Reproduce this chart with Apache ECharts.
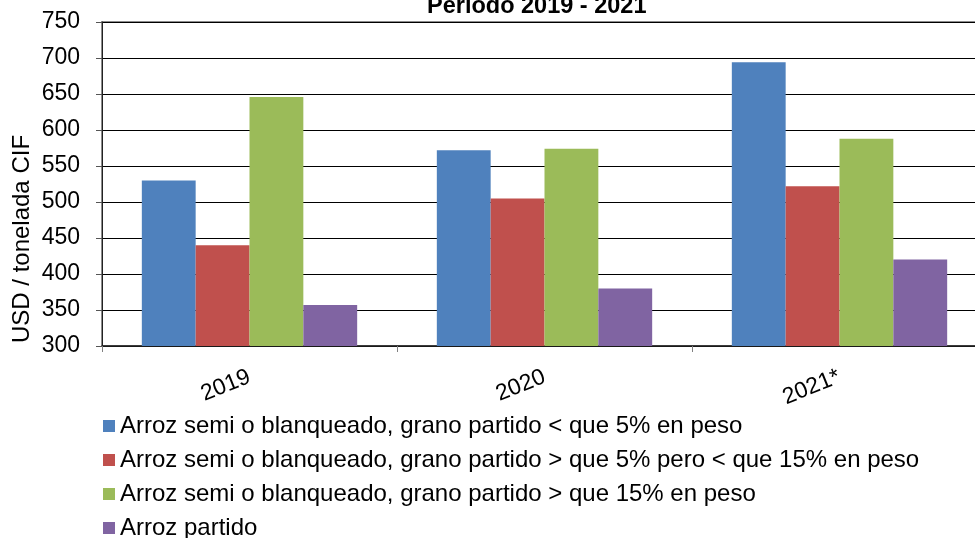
<!DOCTYPE html>
<html>
<head>
<meta charset="utf-8">
<script src="https://cdn.jsdelivr.net/npm/echarts@6/dist/echarts.min.js"></script>
<style>
  html, body { margin:0; padding:0; background:#fff; }
  #chart { width:975px; height:538px; }
</style>
</head>
<body>
<div id="chart"></div>
<script>
var years = ['2019', '2020', '2021*'];
var seriesNames = [
  'Arroz semi o blanqueado, grano partido < que 5% en peso',
  'Arroz semi o blanqueado, grano partido > que 5% pero < que 15% en peso',
  'Arroz semi o blanqueado, grano partido > que 15% en peso',
  'Arroz partido'
];
var menos5 = [530, 572, 694];
var entre5y15 = [440, 505, 522];
var mas15 = [646, 574, 588];
var partido = [357, 380, 420];
var colors = ['#4F81BD', '#C0504D', '#9BBB59', '#8064A2'];

(function(){
  var c = echarts.init(document.getElementById('chart'));
  var font = '"Liberation Sans", Arial, sans-serif';
  var txt = '#000000';
  var values = [menos5, entre5y15, mas15, partido];

  c.setOption({
    animation:false,
    textStyle:{ fontFamily:font },
    title:{
      text:'Período 2019 - 2021',
      left:427, top:-5, padding:0,
      textStyle:{ fontFamily:font, fontSize:23.5, fontWeight:'bold', color:txt }
    },
    legend:{
      orient:'vertical', left:103, top:414, height:140, padding:0,
      itemWidth:12, itemHeight:12, itemGap:10,
      icon:'rect',
      textStyle:{ fontFamily:font, fontSize:24, color:txt, lineHeight:24 },
      data:seriesNames
    },
    grid:{ left:102, right:-12, top:22, bottom:192, containLabel:false, outerBoundsMode:'none',
      show:true, borderColor:'#8c8c8c', borderWidth:2 },
    xAxis:{
      type:'category', data:years,
      axisLine:{ lineStyle:{ color:'#222', width:1.5 } },
      axisTick:{ show:true, length:6, lineStyle:{ color:'#808080' } },
      axisLabel:{ fontFamily:font, fontSize:23, color:txt, rotate:22, margin:30 }
    },
    yAxis:{
      type:'value', min:300, max:750, interval:50,
      axisLine:{ show:true, lineStyle:{ color:'#222', width:1 } },
      axisTick:{ show:true, length:6, lineStyle:{ color:'#555' } },
      axisLabel:{ fontFamily:font, fontSize:23, color:txt, margin:22 },
      splitLine:{ show:true, lineStyle:{ color:'#000', width:1 } }
    },
    graphic:[{
      type:'text', x:22, y:239, rotation:Math.PI / 2,
      style:{ text:'USD / tonelada CIF', fill:txt, font:'24px ' + font,
        textAlign:'center', textVerticalAlign:'middle' }
    }],
    series:values.map(function(v, i){
      return {
        name:seriesNames[i], type:'bar', data:v,
        barGap:'0%', barCategoryGap:'27%',
        itemStyle:{ color:colors[i] }
      };
    })
  });
})();
</script>
</body>
</html>
